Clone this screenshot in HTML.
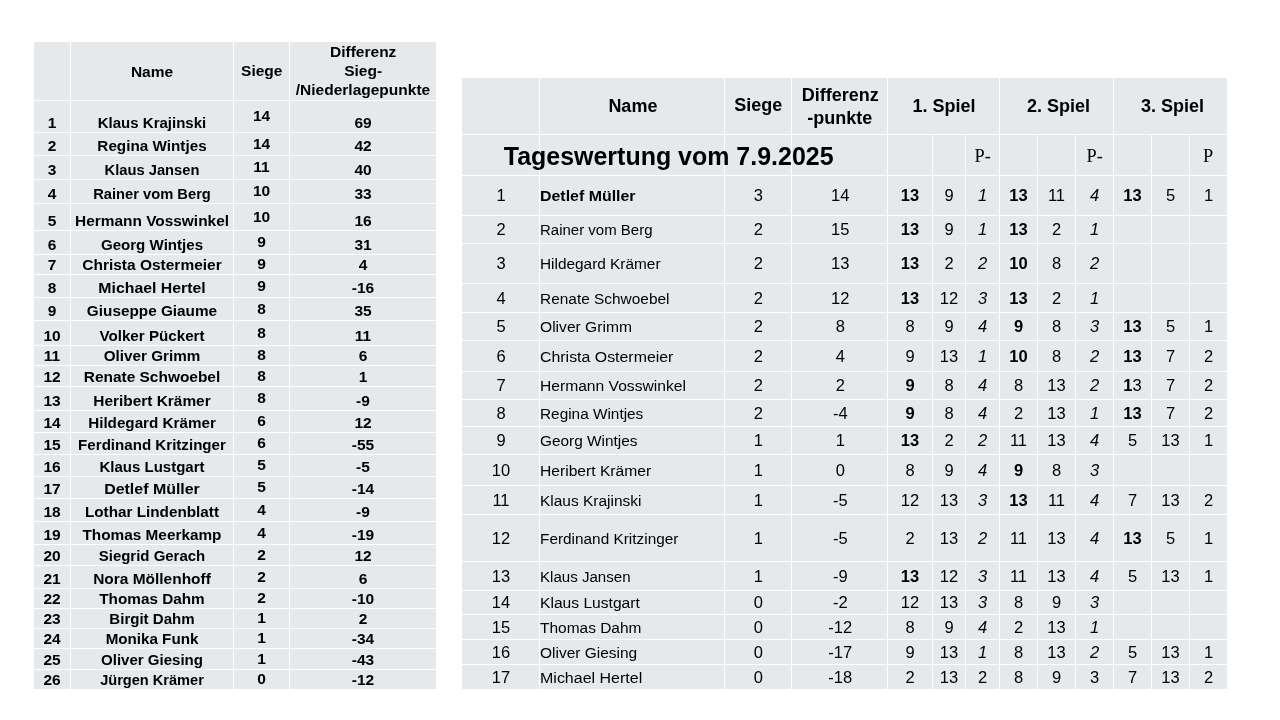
<!DOCTYPE html>
<html><head><meta charset="utf-8"><style>
html,body{margin:0;padding:0;background:#fff;width:1280px;height:720px;overflow:hidden}
svg{display:block;will-change:transform}
text{font-family:"Liberation Sans",sans-serif;fill:#000}
</style></head><body>
<svg width="1280" height="720" viewBox="0 0 1280 720">
<rect x="34" y="42" width="402" height="647" fill="#E6E9EC"/>
<rect x="70" y="42" width="1" height="647" fill="#fff"/>
<rect x="233" y="42" width="1" height="647" fill="#fff"/>
<rect x="289" y="42" width="1" height="647" fill="#fff"/>
<rect x="34" y="100" width="402" height="1" fill="#fff"/>
<rect x="34" y="132" width="402" height="1" fill="#fff"/>
<rect x="34" y="155" width="402" height="1" fill="#fff"/>
<rect x="34" y="179" width="402" height="1" fill="#fff"/>
<rect x="34" y="203" width="402" height="1" fill="#fff"/>
<rect x="34" y="230" width="402" height="1" fill="#fff"/>
<rect x="34" y="254" width="402" height="1" fill="#fff"/>
<rect x="34" y="274" width="402" height="1" fill="#fff"/>
<rect x="34" y="297" width="402" height="1" fill="#fff"/>
<rect x="34" y="320" width="402" height="1" fill="#fff"/>
<rect x="34" y="345" width="402" height="1" fill="#fff"/>
<rect x="34" y="365" width="402" height="1" fill="#fff"/>
<rect x="34" y="386" width="402" height="1" fill="#fff"/>
<rect x="34" y="410" width="402" height="1" fill="#fff"/>
<rect x="34" y="432" width="402" height="1" fill="#fff"/>
<rect x="34" y="454" width="402" height="1" fill="#fff"/>
<rect x="34" y="476" width="402" height="1" fill="#fff"/>
<rect x="34" y="498" width="402" height="1" fill="#fff"/>
<rect x="34" y="521" width="402" height="1" fill="#fff"/>
<rect x="34" y="544" width="402" height="1" fill="#fff"/>
<rect x="34" y="565" width="402" height="1" fill="#fff"/>
<rect x="34" y="588" width="402" height="1" fill="#fff"/>
<rect x="34" y="608" width="402" height="1" fill="#fff"/>
<rect x="34" y="628" width="402" height="1" fill="#fff"/>
<rect x="34" y="648" width="402" height="1" fill="#fff"/>
<rect x="34" y="669" width="402" height="1" fill="#fff"/>
<text x="152" y="77" font-size="15.5" font-weight="bold" text-anchor="middle">Name</text>
<text x="261.75" y="76.4" font-size="15.5" font-weight="bold" text-anchor="middle">Siege</text>
<text x="363.2" y="56.9" font-size="15.5" font-weight="bold" text-anchor="middle">Differenz</text>
<text x="363.15" y="76.1" font-size="15.5" font-weight="bold" text-anchor="middle">Sieg-</text>
<text x="363" y="94.5" font-size="15.5" font-weight="bold" text-anchor="middle">/Niederlagepunkte</text>
<text x="52" y="127.5" font-size="15.5" font-weight="bold" text-anchor="middle">1</text>
<text x="152" y="127.5" font-size="15.5" font-weight="bold" text-anchor="middle" textLength="108.5" lengthAdjust="spacingAndGlyphs">Klaus Krajinski</text>
<text x="261.5" y="121.2" font-size="15.5" font-weight="bold" text-anchor="middle">14</text>
<text x="363" y="127.5" font-size="15.5" font-weight="bold" text-anchor="middle">69</text>
<text x="52" y="150.5" font-size="15.5" font-weight="bold" text-anchor="middle">2</text>
<text x="152" y="150.5" font-size="15.5" font-weight="bold" text-anchor="middle" textLength="109.28" lengthAdjust="spacingAndGlyphs">Regina Wintjes</text>
<text x="261.5" y="148.7" font-size="15.5" font-weight="bold" text-anchor="middle">14</text>
<text x="363" y="150.5" font-size="15.5" font-weight="bold" text-anchor="middle">42</text>
<text x="52" y="174.5" font-size="15.5" font-weight="bold" text-anchor="middle">3</text>
<text x="152" y="174.5" font-size="15.5" font-weight="bold" text-anchor="middle" textLength="94.94" lengthAdjust="spacingAndGlyphs">Klaus Jansen</text>
<text x="261.5" y="172.2" font-size="15.5" font-weight="bold" text-anchor="middle">11</text>
<text x="363" y="174.5" font-size="15.5" font-weight="bold" text-anchor="middle">40</text>
<text x="52" y="198.5" font-size="15.5" font-weight="bold" text-anchor="middle">4</text>
<text x="152" y="198.5" font-size="15.5" font-weight="bold" text-anchor="middle" textLength="117.71" lengthAdjust="spacingAndGlyphs">Rainer vom Berg</text>
<text x="261.5" y="196.2" font-size="15.5" font-weight="bold" text-anchor="middle">10</text>
<text x="363" y="198.5" font-size="15.5" font-weight="bold" text-anchor="middle">33</text>
<text x="52" y="225.5" font-size="15.5" font-weight="bold" text-anchor="middle">5</text>
<text x="152" y="225.5" font-size="15.5" font-weight="bold" text-anchor="middle" textLength="154.0" lengthAdjust="spacingAndGlyphs">Hermann Vosswinkel</text>
<text x="261.5" y="221.7" font-size="15.5" font-weight="bold" text-anchor="middle">10</text>
<text x="363" y="225.5" font-size="15.5" font-weight="bold" text-anchor="middle">16</text>
<text x="52" y="249.5" font-size="15.5" font-weight="bold" text-anchor="middle">6</text>
<text x="152" y="249.5" font-size="15.5" font-weight="bold" text-anchor="middle" textLength="102.19" lengthAdjust="spacingAndGlyphs">Georg Wintjes</text>
<text x="261.5" y="247.2" font-size="15.5" font-weight="bold" text-anchor="middle">9</text>
<text x="363" y="249.5" font-size="15.5" font-weight="bold" text-anchor="middle">31</text>
<text x="52" y="269.5" font-size="15.5" font-weight="bold" text-anchor="middle">7</text>
<text x="152" y="269.5" font-size="15.5" font-weight="bold" text-anchor="middle" textLength="139.48" lengthAdjust="spacingAndGlyphs">Christa Ostermeier</text>
<text x="261.5" y="269.2" font-size="15.5" font-weight="bold" text-anchor="middle">9</text>
<text x="363" y="269.5" font-size="15.5" font-weight="bold" text-anchor="middle">4</text>
<text x="52" y="292.5" font-size="15.5" font-weight="bold" text-anchor="middle">8</text>
<text x="152" y="292.5" font-size="15.5" font-weight="bold" text-anchor="middle" textLength="107.26" lengthAdjust="spacingAndGlyphs">Michael Hertel</text>
<text x="261.5" y="290.7" font-size="15.5" font-weight="bold" text-anchor="middle">9</text>
<text x="363" y="292.5" font-size="15.5" font-weight="bold" text-anchor="middle">-16</text>
<text x="52" y="315.5" font-size="15.5" font-weight="bold" text-anchor="middle">9</text>
<text x="152" y="315.5" font-size="15.5" font-weight="bold" text-anchor="middle" textLength="130.26" lengthAdjust="spacingAndGlyphs">Giuseppe Giaume</text>
<text x="261.5" y="313.7" font-size="15.5" font-weight="bold" text-anchor="middle">8</text>
<text x="363" y="315.5" font-size="15.5" font-weight="bold" text-anchor="middle">35</text>
<text x="52" y="340.5" font-size="15.5" font-weight="bold" text-anchor="middle">10</text>
<text x="152" y="340.5" font-size="15.5" font-weight="bold" text-anchor="middle" textLength="105.19" lengthAdjust="spacingAndGlyphs">Volker Pückert</text>
<text x="261.5" y="337.7" font-size="15.5" font-weight="bold" text-anchor="middle">8</text>
<text x="363" y="340.5" font-size="15.5" font-weight="bold" text-anchor="middle">11</text>
<text x="52" y="360.5" font-size="15.5" font-weight="bold" text-anchor="middle">11</text>
<text x="152" y="360.5" font-size="15.5" font-weight="bold" text-anchor="middle" textLength="96.61" lengthAdjust="spacingAndGlyphs">Oliver Grimm</text>
<text x="261.5" y="360.2" font-size="15.5" font-weight="bold" text-anchor="middle">8</text>
<text x="363" y="360.5" font-size="15.5" font-weight="bold" text-anchor="middle">6</text>
<text x="52" y="381.5" font-size="15.5" font-weight="bold" text-anchor="middle">12</text>
<text x="152" y="381.5" font-size="15.5" font-weight="bold" text-anchor="middle" textLength="136.52" lengthAdjust="spacingAndGlyphs">Renate Schwoebel</text>
<text x="261.5" y="380.7" font-size="15.5" font-weight="bold" text-anchor="middle">8</text>
<text x="363" y="381.5" font-size="15.5" font-weight="bold" text-anchor="middle">1</text>
<text x="52" y="405.5" font-size="15.5" font-weight="bold" text-anchor="middle">13</text>
<text x="152" y="405.5" font-size="15.5" font-weight="bold" text-anchor="middle" textLength="117.39" lengthAdjust="spacingAndGlyphs">Heribert Krämer</text>
<text x="261.5" y="403.2" font-size="15.5" font-weight="bold" text-anchor="middle">8</text>
<text x="363" y="405.5" font-size="15.5" font-weight="bold" text-anchor="middle">-9</text>
<text x="52" y="427.5" font-size="15.5" font-weight="bold" text-anchor="middle">14</text>
<text x="152" y="427.5" font-size="15.5" font-weight="bold" text-anchor="middle" textLength="127.63" lengthAdjust="spacingAndGlyphs">Hildegard Krämer</text>
<text x="261.5" y="426.2" font-size="15.5" font-weight="bold" text-anchor="middle">6</text>
<text x="363" y="427.5" font-size="15.5" font-weight="bold" text-anchor="middle">12</text>
<text x="52" y="449.5" font-size="15.5" font-weight="bold" text-anchor="middle">15</text>
<text x="152" y="449.5" font-size="15.5" font-weight="bold" text-anchor="middle" textLength="147.78" lengthAdjust="spacingAndGlyphs">Ferdinand Kritzinger</text>
<text x="261.5" y="448.2" font-size="15.5" font-weight="bold" text-anchor="middle">6</text>
<text x="363" y="449.5" font-size="15.5" font-weight="bold" text-anchor="middle">-55</text>
<text x="52" y="471.5" font-size="15.5" font-weight="bold" text-anchor="middle">16</text>
<text x="152" y="471.5" font-size="15.5" font-weight="bold" text-anchor="middle" textLength="105.02" lengthAdjust="spacingAndGlyphs">Klaus Lustgart</text>
<text x="261.5" y="470.2" font-size="15.5" font-weight="bold" text-anchor="middle">5</text>
<text x="363" y="471.5" font-size="15.5" font-weight="bold" text-anchor="middle">-5</text>
<text x="52" y="493.5" font-size="15.5" font-weight="bold" text-anchor="middle">17</text>
<text x="152" y="493.5" font-size="15.5" font-weight="bold" text-anchor="middle" textLength="95.62" lengthAdjust="spacingAndGlyphs">Detlef Müller</text>
<text x="261.5" y="492.2" font-size="15.5" font-weight="bold" text-anchor="middle">5</text>
<text x="363" y="493.5" font-size="15.5" font-weight="bold" text-anchor="middle">-14</text>
<text x="52" y="516.5" font-size="15.5" font-weight="bold" text-anchor="middle">18</text>
<text x="152" y="516.5" font-size="15.5" font-weight="bold" text-anchor="middle" textLength="134.13" lengthAdjust="spacingAndGlyphs">Lothar Lindenblatt</text>
<text x="261.5" y="514.7" font-size="15.5" font-weight="bold" text-anchor="middle">4</text>
<text x="363" y="516.5" font-size="15.5" font-weight="bold" text-anchor="middle">-9</text>
<text x="52" y="539.5" font-size="15.5" font-weight="bold" text-anchor="middle">19</text>
<text x="152" y="539.5" font-size="15.5" font-weight="bold" text-anchor="middle" textLength="138.98" lengthAdjust="spacingAndGlyphs">Thomas Meerkamp</text>
<text x="261.5" y="537.7" font-size="15.5" font-weight="bold" text-anchor="middle">4</text>
<text x="363" y="539.5" font-size="15.5" font-weight="bold" text-anchor="middle">-19</text>
<text x="52" y="560.5" font-size="15.5" font-weight="bold" text-anchor="middle">20</text>
<text x="152" y="560.5" font-size="15.5" font-weight="bold" text-anchor="middle" textLength="106.48" lengthAdjust="spacingAndGlyphs">Siegrid Gerach</text>
<text x="261.5" y="559.7" font-size="15.5" font-weight="bold" text-anchor="middle">2</text>
<text x="363" y="560.5" font-size="15.5" font-weight="bold" text-anchor="middle">12</text>
<text x="52" y="583.5" font-size="15.5" font-weight="bold" text-anchor="middle">21</text>
<text x="152" y="583.5" font-size="15.5" font-weight="bold" text-anchor="middle" textLength="117.73" lengthAdjust="spacingAndGlyphs">Nora Möllenhoff</text>
<text x="261.5" y="581.7" font-size="15.5" font-weight="bold" text-anchor="middle">2</text>
<text x="363" y="583.5" font-size="15.5" font-weight="bold" text-anchor="middle">6</text>
<text x="52" y="603.5" font-size="15.5" font-weight="bold" text-anchor="middle">22</text>
<text x="152" y="603.5" font-size="15.5" font-weight="bold" text-anchor="middle" textLength="105.5" lengthAdjust="spacingAndGlyphs">Thomas Dahm</text>
<text x="261.5" y="603.2" font-size="15.5" font-weight="bold" text-anchor="middle">2</text>
<text x="363" y="603.5" font-size="15.5" font-weight="bold" text-anchor="middle">-10</text>
<text x="52" y="623.5" font-size="15.5" font-weight="bold" text-anchor="middle">23</text>
<text x="152" y="623.5" font-size="15.5" font-weight="bold" text-anchor="middle" textLength="85.33" lengthAdjust="spacingAndGlyphs">Birgit Dahm</text>
<text x="261.5" y="623.2" font-size="15.5" font-weight="bold" text-anchor="middle">1</text>
<text x="363" y="623.5" font-size="15.5" font-weight="bold" text-anchor="middle">2</text>
<text x="52" y="643.5" font-size="15.5" font-weight="bold" text-anchor="middle">24</text>
<text x="152" y="643.5" font-size="15.5" font-weight="bold" text-anchor="middle" textLength="92.75" lengthAdjust="spacingAndGlyphs">Monika Funk</text>
<text x="261.5" y="643.2" font-size="15.5" font-weight="bold" text-anchor="middle">1</text>
<text x="363" y="643.5" font-size="15.5" font-weight="bold" text-anchor="middle">-34</text>
<text x="52" y="664.5" font-size="15.5" font-weight="bold" text-anchor="middle">25</text>
<text x="152" y="664.5" font-size="15.5" font-weight="bold" text-anchor="middle" textLength="102.0" lengthAdjust="spacingAndGlyphs">Oliver Giesing</text>
<text x="261.5" y="663.7" font-size="15.5" font-weight="bold" text-anchor="middle">1</text>
<text x="363" y="664.5" font-size="15.5" font-weight="bold" text-anchor="middle">-43</text>
<text x="52" y="684.5" font-size="15.5" font-weight="bold" text-anchor="middle">26</text>
<text x="152" y="684.5" font-size="15.5" font-weight="bold" text-anchor="middle" textLength="103.68" lengthAdjust="spacingAndGlyphs">Jürgen Krämer</text>
<text x="261.5" y="684.2" font-size="15.5" font-weight="bold" text-anchor="middle">0</text>
<text x="363" y="684.5" font-size="15.5" font-weight="bold" text-anchor="middle">-12</text>
<rect x="462" y="78" width="765" height="611" fill="#E6E9EC"/>
<rect x="539" y="78" width="1" height="611" fill="#fff"/>
<rect x="724" y="78" width="1" height="611" fill="#fff"/>
<rect x="791" y="78" width="1" height="611" fill="#fff"/>
<rect x="887" y="78" width="1" height="611" fill="#fff"/>
<rect x="999" y="78" width="1" height="611" fill="#fff"/>
<rect x="1113" y="78" width="1" height="611" fill="#fff"/>
<rect x="932" y="134" width="1" height="555" fill="#fff"/>
<rect x="965" y="134" width="1" height="555" fill="#fff"/>
<rect x="1037" y="134" width="1" height="555" fill="#fff"/>
<rect x="1075" y="134" width="1" height="555" fill="#fff"/>
<rect x="1151" y="134" width="1" height="555" fill="#fff"/>
<rect x="1189" y="134" width="1" height="555" fill="#fff"/>
<rect x="462" y="134" width="765" height="1" fill="#fff"/>
<rect x="462" y="175" width="765" height="1" fill="#fff"/>
<rect x="462" y="215" width="765" height="1" fill="#fff"/>
<rect x="462" y="243" width="765" height="1" fill="#fff"/>
<rect x="462" y="283" width="765" height="1" fill="#fff"/>
<rect x="462" y="312" width="765" height="1" fill="#fff"/>
<rect x="462" y="340" width="765" height="1" fill="#fff"/>
<rect x="462" y="371" width="765" height="1" fill="#fff"/>
<rect x="462" y="399" width="765" height="1" fill="#fff"/>
<rect x="462" y="426" width="765" height="1" fill="#fff"/>
<rect x="462" y="454" width="765" height="1" fill="#fff"/>
<rect x="462" y="485" width="765" height="1" fill="#fff"/>
<rect x="462" y="514" width="765" height="1" fill="#fff"/>
<rect x="462" y="561" width="765" height="1" fill="#fff"/>
<rect x="462" y="590" width="765" height="1" fill="#fff"/>
<rect x="462" y="614" width="765" height="1" fill="#fff"/>
<rect x="462" y="639" width="765" height="1" fill="#fff"/>
<rect x="462" y="664" width="765" height="1" fill="#fff"/>
<text x="632.9" y="111.9" font-size="18" font-weight="bold" text-anchor="middle">Name</text>
<text x="758.3" y="111.2" font-size="18" font-weight="bold" text-anchor="middle">Siege</text>
<text x="840.2" y="100.5" font-size="18" font-weight="bold" text-anchor="middle">Differenz</text>
<text x="839.75" y="123.5" font-size="18" font-weight="bold" text-anchor="middle">-punkte</text>
<text x="943.9" y="112.2" font-size="18" font-weight="bold" text-anchor="middle">1. Spiel</text>
<text x="1058.6" y="112.2" font-size="18" font-weight="bold" text-anchor="middle">2. Spiel</text>
<text x="1172.6" y="112.2" font-size="18" font-weight="bold" text-anchor="middle">3. Spiel</text>
<text x="503.75" y="164.5" font-size="26" font-weight="bold" textLength="329.8" lengthAdjust="spacingAndGlyphs">Tageswertung vom 7.9.2025</text>
<text x="974.5" y="162.1" font-size="18.3" style="font-family:'Liberation Serif',serif">P-</text>
<text x="1086.6" y="162.1" font-size="18.3" style="font-family:'Liberation Serif',serif">P-</text>
<text x="1203" y="162.1" font-size="18.3" style="font-family:'Liberation Serif',serif">P</text>
<text x="501" y="201.3" font-size="16.5" text-anchor="middle">1</text>
<text x="540" y="201.3" font-size="15.5" font-weight="bold" textLength="95.52" lengthAdjust="spacingAndGlyphs">Detlef Müller</text>
<text x="758.25" y="201.3" font-size="16.5" text-anchor="middle">3</text>
<text x="840.3" y="201.3" font-size="16.5" text-anchor="middle">14</text>
<text x="910" y="201.3" font-size="16.5" font-weight="bold" text-anchor="middle">13</text>
<text x="949" y="201.3" font-size="16.5" text-anchor="middle">9</text>
<text x="982.5" y="201.3" font-size="16.5" font-style="italic" text-anchor="middle">1</text>
<text x="1018.5" y="201.3" font-size="16.5" font-weight="bold" text-anchor="middle">13</text>
<text x="1056.5" y="201.3" font-size="16.5" text-anchor="middle">11</text>
<text x="1094.5" y="201.3" font-size="16.5" font-style="italic" text-anchor="middle">4</text>
<text x="1132.5" y="201.3" font-size="16.5" font-weight="bold" text-anchor="middle">13</text>
<text x="1170.5" y="201.3" font-size="16.5" text-anchor="middle">5</text>
<text x="1208.5" y="201.3" font-size="16.5" text-anchor="middle">1</text>
<text x="501" y="235.3" font-size="16.5" text-anchor="middle">2</text>
<text x="540" y="235.3" font-size="15.5" textLength="112.47" lengthAdjust="spacingAndGlyphs">Rainer vom Berg</text>
<text x="758.25" y="235.3" font-size="16.5" text-anchor="middle">2</text>
<text x="840.3" y="235.3" font-size="16.5" text-anchor="middle">15</text>
<text x="910" y="235.3" font-size="16.5" font-weight="bold" text-anchor="middle">13</text>
<text x="949" y="235.3" font-size="16.5" text-anchor="middle">9</text>
<text x="982.5" y="235.3" font-size="16.5" font-style="italic" text-anchor="middle">1</text>
<text x="1018.5" y="235.3" font-size="16.5" font-weight="bold" text-anchor="middle">13</text>
<text x="1056.5" y="235.3" font-size="16.5" text-anchor="middle">2</text>
<text x="1094.5" y="235.3" font-size="16.5" font-style="italic" text-anchor="middle">1</text>
<text x="501" y="269.3" font-size="16.5" text-anchor="middle">3</text>
<text x="540" y="269.3" font-size="15.5" textLength="120.53" lengthAdjust="spacingAndGlyphs">Hildegard Krämer</text>
<text x="758.25" y="269.3" font-size="16.5" text-anchor="middle">2</text>
<text x="840.3" y="269.3" font-size="16.5" text-anchor="middle">13</text>
<text x="910" y="269.3" font-size="16.5" font-weight="bold" text-anchor="middle">13</text>
<text x="949" y="269.3" font-size="16.5" text-anchor="middle">2</text>
<text x="982.5" y="269.3" font-size="16.5" font-style="italic" text-anchor="middle">2</text>
<text x="1018.5" y="269.3" font-size="16.5" font-weight="bold" text-anchor="middle">10</text>
<text x="1056.5" y="269.3" font-size="16.5" text-anchor="middle">8</text>
<text x="1094.5" y="269.3" font-size="16.5" font-style="italic" text-anchor="middle">2</text>
<text x="501" y="303.8" font-size="16.5" text-anchor="middle">4</text>
<text x="540" y="303.8" font-size="15.5" textLength="129.5" lengthAdjust="spacingAndGlyphs">Renate Schwoebel</text>
<text x="758.25" y="303.8" font-size="16.5" text-anchor="middle">2</text>
<text x="840.3" y="303.8" font-size="16.5" text-anchor="middle">12</text>
<text x="910" y="303.8" font-size="16.5" font-weight="bold" text-anchor="middle">13</text>
<text x="949" y="303.8" font-size="16.5" text-anchor="middle">12</text>
<text x="982.5" y="303.8" font-size="16.5" font-style="italic" text-anchor="middle">3</text>
<text x="1018.5" y="303.8" font-size="16.5" font-weight="bold" text-anchor="middle">13</text>
<text x="1056.5" y="303.8" font-size="16.5" text-anchor="middle">2</text>
<text x="1094.5" y="303.8" font-size="16.5" font-style="italic" text-anchor="middle">1</text>
<text x="501" y="332.3" font-size="16.5" text-anchor="middle">5</text>
<text x="540" y="332.3" font-size="15.5" textLength="91.97" lengthAdjust="spacingAndGlyphs">Oliver Grimm</text>
<text x="758.25" y="332.3" font-size="16.5" text-anchor="middle">2</text>
<text x="840.3" y="332.3" font-size="16.5" text-anchor="middle">8</text>
<text x="910" y="332.3" font-size="16.5" text-anchor="middle">8</text>
<text x="949" y="332.3" font-size="16.5" text-anchor="middle">9</text>
<text x="982.5" y="332.3" font-size="16.5" font-style="italic" text-anchor="middle">4</text>
<text x="1018.5" y="332.3" font-size="16.5" font-weight="bold" text-anchor="middle">9</text>
<text x="1056.5" y="332.3" font-size="16.5" text-anchor="middle">8</text>
<text x="1094.5" y="332.3" font-size="16.5" font-style="italic" text-anchor="middle">3</text>
<text x="1132.5" y="332.3" font-size="16.5" font-weight="bold" text-anchor="middle">13</text>
<text x="1170.5" y="332.3" font-size="16.5" text-anchor="middle">5</text>
<text x="1208.5" y="332.3" font-size="16.5" text-anchor="middle">1</text>
<text x="501" y="361.8" font-size="16.5" text-anchor="middle">6</text>
<text x="540" y="361.8" font-size="15.5" textLength="133.41" lengthAdjust="spacingAndGlyphs">Christa Ostermeier</text>
<text x="758.25" y="361.8" font-size="16.5" text-anchor="middle">2</text>
<text x="840.3" y="361.8" font-size="16.5" text-anchor="middle">4</text>
<text x="910" y="361.8" font-size="16.5" text-anchor="middle">9</text>
<text x="949" y="361.8" font-size="16.5" text-anchor="middle">13</text>
<text x="982.5" y="361.8" font-size="16.5" font-style="italic" text-anchor="middle">1</text>
<text x="1018.5" y="361.8" font-size="16.5" font-weight="bold" text-anchor="middle">10</text>
<text x="1056.5" y="361.8" font-size="16.5" text-anchor="middle">8</text>
<text x="1094.5" y="361.8" font-size="16.5" font-style="italic" text-anchor="middle">2</text>
<text x="1132.5" y="361.8" font-size="16.5" font-weight="bold" text-anchor="middle">13</text>
<text x="1170.5" y="361.8" font-size="16.5" text-anchor="middle">7</text>
<text x="1208.5" y="361.8" font-size="16.5" text-anchor="middle">2</text>
<text x="501" y="391.3" font-size="16.5" text-anchor="middle">7</text>
<text x="540" y="391.3" font-size="15.5" textLength="145.86" lengthAdjust="spacingAndGlyphs">Hermann Vosswinkel</text>
<text x="758.25" y="391.3" font-size="16.5" text-anchor="middle">2</text>
<text x="840.3" y="391.3" font-size="16.5" text-anchor="middle">2</text>
<text x="910" y="391.3" font-size="16.5" font-weight="bold" text-anchor="middle">9</text>
<text x="949" y="391.3" font-size="16.5" text-anchor="middle">8</text>
<text x="982.5" y="391.3" font-size="16.5" font-style="italic" text-anchor="middle">4</text>
<text x="1018.5" y="391.3" font-size="16.5" text-anchor="middle">8</text>
<text x="1056.5" y="391.3" font-size="16.5" text-anchor="middle">13</text>
<text x="1094.5" y="391.3" font-size="16.5" font-style="italic" text-anchor="middle">2</text>
<text x="1132.5" y="391.3" font-size="16.5" text-anchor="middle"><tspan font-weight="bold">1</tspan>3</text>
<text x="1170.5" y="391.3" font-size="16.5" text-anchor="middle">7</text>
<text x="1208.5" y="391.3" font-size="16.5" text-anchor="middle">2</text>
<text x="501" y="418.8" font-size="16.5" text-anchor="middle">8</text>
<text x="540" y="418.8" font-size="15.5" textLength="103.3" lengthAdjust="spacingAndGlyphs">Regina Wintjes</text>
<text x="758.25" y="418.8" font-size="16.5" text-anchor="middle">2</text>
<text x="840.3" y="418.8" font-size="16.5" text-anchor="middle">-4</text>
<text x="910" y="418.8" font-size="16.5" font-weight="bold" text-anchor="middle">9</text>
<text x="949" y="418.8" font-size="16.5" text-anchor="middle">8</text>
<text x="982.5" y="418.8" font-size="16.5" font-style="italic" text-anchor="middle">4</text>
<text x="1018.5" y="418.8" font-size="16.5" text-anchor="middle">2</text>
<text x="1056.5" y="418.8" font-size="16.5" text-anchor="middle">13</text>
<text x="1094.5" y="418.8" font-size="16.5" font-style="italic" text-anchor="middle">1</text>
<text x="1132.5" y="418.8" font-size="16.5" font-weight="bold" text-anchor="middle">13</text>
<text x="1170.5" y="418.8" font-size="16.5" text-anchor="middle">7</text>
<text x="1208.5" y="418.8" font-size="16.5" text-anchor="middle">2</text>
<text x="501" y="446.3" font-size="16.5" text-anchor="middle">9</text>
<text x="540" y="446.3" font-size="15.5" textLength="97.51" lengthAdjust="spacingAndGlyphs">Georg Wintjes</text>
<text x="758.25" y="446.3" font-size="16.5" text-anchor="middle">1</text>
<text x="840.3" y="446.3" font-size="16.5" text-anchor="middle">1</text>
<text x="910" y="446.3" font-size="16.5" font-weight="bold" text-anchor="middle">13</text>
<text x="949" y="446.3" font-size="16.5" text-anchor="middle">2</text>
<text x="982.5" y="446.3" font-size="16.5" font-style="italic" text-anchor="middle">2</text>
<text x="1018.5" y="446.3" font-size="16.5" text-anchor="middle">11</text>
<text x="1056.5" y="446.3" font-size="16.5" text-anchor="middle">13</text>
<text x="1094.5" y="446.3" font-size="16.5" font-style="italic" text-anchor="middle">4</text>
<text x="1132.5" y="446.3" font-size="16.5" text-anchor="middle">5</text>
<text x="1170.5" y="446.3" font-size="16.5" text-anchor="middle">13</text>
<text x="1208.5" y="446.3" font-size="16.5" text-anchor="middle">1</text>
<text x="501" y="475.8" font-size="16.5" text-anchor="middle">10</text>
<text x="540" y="475.8" font-size="15.5" textLength="111.17" lengthAdjust="spacingAndGlyphs">Heribert Krämer</text>
<text x="758.25" y="475.8" font-size="16.5" text-anchor="middle">1</text>
<text x="840.3" y="475.8" font-size="16.5" text-anchor="middle">0</text>
<text x="910" y="475.8" font-size="16.5" text-anchor="middle">8</text>
<text x="949" y="475.8" font-size="16.5" text-anchor="middle">9</text>
<text x="982.5" y="475.8" font-size="16.5" font-style="italic" text-anchor="middle">4</text>
<text x="1018.5" y="475.8" font-size="16.5" font-weight="bold" text-anchor="middle">9</text>
<text x="1056.5" y="475.8" font-size="16.5" text-anchor="middle">8</text>
<text x="1094.5" y="475.8" font-size="16.5" font-style="italic" text-anchor="middle">3</text>
<text x="501" y="505.8" font-size="16.5" text-anchor="middle">11</text>
<text x="540" y="505.8" font-size="15.5" textLength="101.47" lengthAdjust="spacingAndGlyphs">Klaus Krajinski</text>
<text x="758.25" y="505.8" font-size="16.5" text-anchor="middle">1</text>
<text x="840.3" y="505.8" font-size="16.5" text-anchor="middle">-5</text>
<text x="910" y="505.8" font-size="16.5" text-anchor="middle">12</text>
<text x="949" y="505.8" font-size="16.5" text-anchor="middle">13</text>
<text x="982.5" y="505.8" font-size="16.5" font-style="italic" text-anchor="middle">3</text>
<text x="1018.5" y="505.8" font-size="16.5" font-weight="bold" text-anchor="middle">13</text>
<text x="1056.5" y="505.8" font-size="16.5" text-anchor="middle">11</text>
<text x="1094.5" y="505.8" font-size="16.5" font-style="italic" text-anchor="middle">4</text>
<text x="1132.5" y="505.8" font-size="16.5" text-anchor="middle">7</text>
<text x="1170.5" y="505.8" font-size="16.5" text-anchor="middle">13</text>
<text x="1208.5" y="505.8" font-size="16.5" text-anchor="middle">2</text>
<text x="501" y="543.8" font-size="16.5" text-anchor="middle">12</text>
<text x="540" y="543.8" font-size="15.5" textLength="138.4" lengthAdjust="spacingAndGlyphs">Ferdinand Kritzinger</text>
<text x="758.25" y="543.8" font-size="16.5" text-anchor="middle">1</text>
<text x="840.3" y="543.8" font-size="16.5" text-anchor="middle">-5</text>
<text x="910" y="543.8" font-size="16.5" text-anchor="middle">2</text>
<text x="949" y="543.8" font-size="16.5" text-anchor="middle">13</text>
<text x="982.5" y="543.8" font-size="16.5" font-style="italic" text-anchor="middle">2</text>
<text x="1018.5" y="543.8" font-size="16.5" text-anchor="middle">11</text>
<text x="1056.5" y="543.8" font-size="16.5" text-anchor="middle">13</text>
<text x="1094.5" y="543.8" font-size="16.5" font-style="italic" text-anchor="middle">4</text>
<text x="1132.5" y="543.8" font-size="16.5" font-weight="bold" text-anchor="middle">13</text>
<text x="1170.5" y="543.8" font-size="16.5" text-anchor="middle">5</text>
<text x="1208.5" y="543.8" font-size="16.5" text-anchor="middle">1</text>
<text x="501" y="581.8" font-size="16.5" text-anchor="middle">13</text>
<text x="540" y="581.8" font-size="15.5" textLength="90.59" lengthAdjust="spacingAndGlyphs">Klaus Jansen</text>
<text x="758.25" y="581.8" font-size="16.5" text-anchor="middle">1</text>
<text x="840.3" y="581.8" font-size="16.5" text-anchor="middle">-9</text>
<text x="910" y="581.8" font-size="16.5" font-weight="bold" text-anchor="middle">13</text>
<text x="949" y="581.8" font-size="16.5" text-anchor="middle">12</text>
<text x="982.5" y="581.8" font-size="16.5" font-style="italic" text-anchor="middle">3</text>
<text x="1018.5" y="581.8" font-size="16.5" text-anchor="middle">11</text>
<text x="1056.5" y="581.8" font-size="16.5" text-anchor="middle">13</text>
<text x="1094.5" y="581.8" font-size="16.5" font-style="italic" text-anchor="middle">4</text>
<text x="1132.5" y="581.8" font-size="16.5" text-anchor="middle">5</text>
<text x="1170.5" y="581.8" font-size="16.5" text-anchor="middle">13</text>
<text x="1208.5" y="581.8" font-size="16.5" text-anchor="middle">1</text>
<text x="501" y="608.3" font-size="16.5" text-anchor="middle">14</text>
<text x="540" y="608.3" font-size="15.5" textLength="99.81" lengthAdjust="spacingAndGlyphs">Klaus Lustgart</text>
<text x="758.25" y="608.3" font-size="16.5" text-anchor="middle">0</text>
<text x="840.3" y="608.3" font-size="16.5" text-anchor="middle">-2</text>
<text x="910" y="608.3" font-size="16.5" text-anchor="middle">12</text>
<text x="949" y="608.3" font-size="16.5" text-anchor="middle">13</text>
<text x="982.5" y="608.3" font-size="16.5" font-style="italic" text-anchor="middle">3</text>
<text x="1018.5" y="608.3" font-size="16.5" text-anchor="middle">8</text>
<text x="1056.5" y="608.3" font-size="16.5" text-anchor="middle">9</text>
<text x="1094.5" y="608.3" font-size="16.5" font-style="italic" text-anchor="middle">3</text>
<text x="501" y="632.8" font-size="16.5" text-anchor="middle">15</text>
<text x="540" y="632.8" font-size="15.5" textLength="101.47" lengthAdjust="spacingAndGlyphs">Thomas Dahm</text>
<text x="758.25" y="632.8" font-size="16.5" text-anchor="middle">0</text>
<text x="840.3" y="632.8" font-size="16.5" text-anchor="middle">-12</text>
<text x="910" y="632.8" font-size="16.5" text-anchor="middle">8</text>
<text x="949" y="632.8" font-size="16.5" text-anchor="middle">9</text>
<text x="982.5" y="632.8" font-size="16.5" font-style="italic" text-anchor="middle">4</text>
<text x="1018.5" y="632.8" font-size="16.5" text-anchor="middle">2</text>
<text x="1056.5" y="632.8" font-size="16.5" text-anchor="middle">13</text>
<text x="1094.5" y="632.8" font-size="16.5" font-style="italic" text-anchor="middle">1</text>
<text x="501" y="657.8" font-size="16.5" text-anchor="middle">16</text>
<text x="540" y="657.8" font-size="15.5" textLength="97.1" lengthAdjust="spacingAndGlyphs">Oliver Giesing</text>
<text x="758.25" y="657.8" font-size="16.5" text-anchor="middle">0</text>
<text x="840.3" y="657.8" font-size="16.5" text-anchor="middle">-17</text>
<text x="910" y="657.8" font-size="16.5" text-anchor="middle">9</text>
<text x="949" y="657.8" font-size="16.5" text-anchor="middle">13</text>
<text x="982.5" y="657.8" font-size="16.5" font-style="italic" text-anchor="middle">1</text>
<text x="1018.5" y="657.8" font-size="16.5" text-anchor="middle">8</text>
<text x="1056.5" y="657.8" font-size="16.5" text-anchor="middle">13</text>
<text x="1094.5" y="657.8" font-size="16.5" font-style="italic" text-anchor="middle">2</text>
<text x="1132.5" y="657.8" font-size="16.5" text-anchor="middle">5</text>
<text x="1170.5" y="657.8" font-size="16.5" text-anchor="middle">13</text>
<text x="1208.5" y="657.8" font-size="16.5" text-anchor="middle">1</text>
<text x="501" y="682.8" font-size="16.5" text-anchor="middle">17</text>
<text x="540" y="682.8" font-size="15.5" textLength="102.22" lengthAdjust="spacingAndGlyphs">Michael Hertel</text>
<text x="758.25" y="682.8" font-size="16.5" text-anchor="middle">0</text>
<text x="840.3" y="682.8" font-size="16.5" text-anchor="middle">-18</text>
<text x="910" y="682.8" font-size="16.5" text-anchor="middle">2</text>
<text x="949" y="682.8" font-size="16.5" text-anchor="middle">13</text>
<text x="982.5" y="682.8" font-size="16.5" text-anchor="middle">2</text>
<text x="1018.5" y="682.8" font-size="16.5" text-anchor="middle">8</text>
<text x="1056.5" y="682.8" font-size="16.5" text-anchor="middle">9</text>
<text x="1094.5" y="682.8" font-size="16.5" text-anchor="middle">3</text>
<text x="1132.5" y="682.8" font-size="16.5" text-anchor="middle">7</text>
<text x="1170.5" y="682.8" font-size="16.5" text-anchor="middle">13</text>
<text x="1208.5" y="682.8" font-size="16.5" text-anchor="middle">2</text>
</svg>
</body></html>
